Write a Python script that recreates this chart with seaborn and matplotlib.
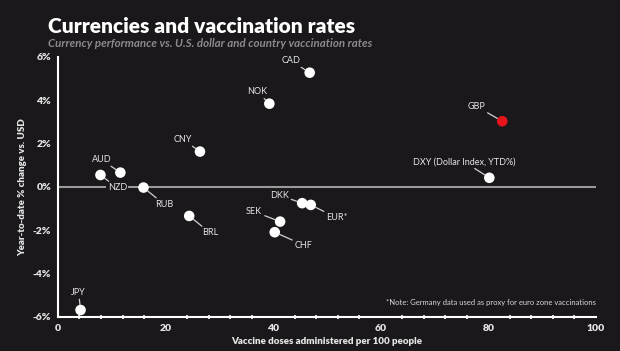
import pandas as pd
import seaborn as sns
import matplotlib.pyplot as plt
from matplotlib.ticker import MultipleLocator, FuncFormatter

# data
currencies = ['CAD', 'NOK', 'GBP', 'DXY (Dollar Index, YTD%)', 'CNY', 'AUD', 'NZD',
              'RUB', 'BRL', 'SEK', 'CHF', 'DKK', 'EUR*', 'JPY']
vaccine_doses = [46.8, 39.3, 82.6, 80.2, 26.4, 11.6, 7.9, 15.9, 24.4, 41.3, 40.3, 45.4, 47.0, 4.2]
ytd_change = [5.27, 3.84, 3.03, 0.42, 1.63, 0.66, 0.55, -0.03, -1.34, -1.6, -2.09, -0.75, -0.83, -5.68]
highlight = ['GBP']

# label offsets in pixels (label centre relative to point)
label_offsets = {
    'CAD': (-19, 12), 'NOK': (-12, 12), 'GBP': (-26, 15),
    'DXY (Dollar Index, YTD%)': (-25, 16), 'CNY': (-17, 12), 'AUD': (-19, 13),
    'NZD': (17, -13), 'RUB': (21, -17), 'BRL': (21, -17), 'SEK': (-26, 10),
    'CHF': (29, -13), 'DKK': (-23, 8), 'EUR*': (26, -13), 'JPY': (-2, 18),
}

bg = '#1b181c'
df = pd.DataFrame({'currency': currencies, 'doses': vaccine_doses, 'change': ytd_change})
df['group'] = ['hi' if c in highlight else 'lo' for c in df['currency']]

sns.set_style('dark')
plt.rcParams['font.family'] = ['Lato', 'DejaVu Sans']

fig = plt.figure(figsize=(6.2, 3.51), dpi=100, facecolor=bg)
ax = fig.add_axes([0.0935, 0.097, 0.8675, 0.741])
ax.set_facecolor(bg)

ax.axhline(0, color='#9a9a9a', lw=1.5, zorder=1)

sns.scatterplot(data=df, x='doses', y='change', hue='group',
                palette={'hi': '#e8141b', 'lo': 'white'}, s=58, linewidth=0,
                legend=False, zorder=4, ax=ax)

for _, row in df.iterrows():
    dx, dy = label_offsets[row['currency']]
    ax.annotate(row['currency'], xy=(row['doses'], row['change']),
                xytext=(dx, dy), textcoords='offset pixels',
                ha='center', va='center', fontsize=6.5, color='#e6e6e6',
                bbox=dict(boxstyle='square,pad=0.15', fc=bg, ec='none'),
                arrowprops=dict(arrowstyle='-', color='#d0d0d0', lw=0.9,
                                shrinkA=1, shrinkB=4),
                zorder=3)

ax.set_xlim(0, 100)
ax.set_ylim(-6, 6)
ax.xaxis.set_major_locator(MultipleLocator(20))
ax.xaxis.set_minor_locator(MultipleLocator(4))
ax.yaxis.set_major_locator(MultipleLocator(2))
ax.yaxis.set_major_formatter(FuncFormatter(lambda v, p: f'{v:.0f}%'))

for s in ['top', 'right']:
    ax.spines[s].set_visible(False)
for s in ['left', 'bottom']:
    ax.spines[s].set_color('white')
    ax.spines[s].set_linewidth(1.5)

ax.tick_params(axis='both', which='major', colors='white', labelcolor='#e6e6e6',
               labelsize=7.5, length=3, width=1, direction='out', pad=2)
ax.tick_params(axis='x', which='minor', colors='white', length=3, width=1.2,
               direction='inout', bottom=True)
for lab in ax.get_xticklabels() + ax.get_yticklabels():
    lab.set_fontweight('heavy')
ax.grid(False)

ax.set_xlabel('Vaccine doses administered per 100 people', fontsize=7,
              fontweight='heavy', color='#e6e6e6', labelpad=3)
ax.set_ylabel('Year-to-date % change vs. USD', fontsize=7,
              fontweight='heavy', color='#e6e6e6', labelpad=4)

ax.text(100, -5.35, '*Note: Germany data used as proxy for euro zone vaccinations',
        ha='right', va='center', fontsize=5.5, color='#d8d8d8')

fig.text(0.078, 0.925, 'Currencies and vaccination rates', fontsize=15,
         fontweight='heavy', color='white', ha='left', va='center')
fig.text(0.078, 0.875, 'Currency performance vs. U.S. dollar and country vaccination rates',
         fontsize=8.3, fontstyle='italic', fontweight='bold', color='#8c8a8e',
         ha='left', va='center')

fig.savefig('out.png', dpi=100, facecolor=bg)
